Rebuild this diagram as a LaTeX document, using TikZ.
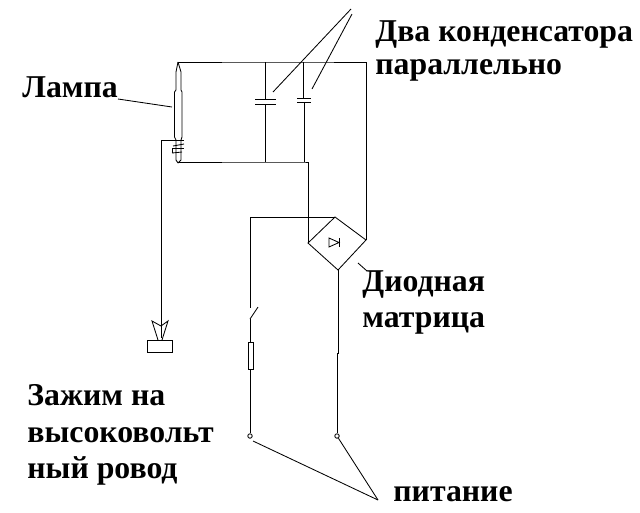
\documentclass[tikz,border=0pt]{standalone}
\usepackage{fontspec}
\setmainfont{Liberation Serif}
\usepackage{tikz}

\begin{document}
\begin{tikzpicture}[x=0.25mm, y=-0.25mm, line width=0.6pt,
  label/.style={anchor=base west, inner sep=0pt, font=\bfseries\fontsize{22.6}{22.6}\selectfont}]
\useasboundingbox (0,0) rectangle (640,512);

% --- Labels ---
\node[label] (lblLamp) at (22,97) {Лампа};
\node[label] (lblCapA) at (375,41) {Два конденсатора};
\node[label] (lblCapB) at (375,74) {параллельно};
\node[label] (lblBridgeA) at (362,291) {Диодная};
\node[label] (lblBridgeB) at (362,327) {матрица};
\node[label] (lblClipA) at (27,405) {Зажим на};
\node[label] (lblClipB) at (27,442) {высоковольт};
\node[label] (lblClipC) at (27,478) {ный ровод};
\node[label] (lblPower) at (393,501) {питание};

% --- Lamp ---
\coordinate (lampTop) at (178,62);
\coordinate (lampBot) at (178,163);
\draw (lampTop) -- (176,72) -- (176,90) -- (174.5,92) -- (174.5,137) -- (176,140) -- (176,160) -- (lampBot);
\draw (lampTop) -- (181,72) -- (181,90) -- (182,92) -- (182,137) -- (181,140) -- (181,160) -- (lampBot);

% --- Coil on the lamp ---
\coordinate (coilIn) at (161,140);
\coordinate (coilEnd) at (184,140);
\draw (coilIn) -- (coilEnd);
\draw (173,146) -- (184,144);
\draw (172,148) -- (184,148);
\draw (172,153) -- (182,152);
\draw (172,148) -- (172,153);

% --- Top and bottom rails ---
\coordinate (capTopA) at (265,62);
\coordinate (capTopB) at (303,62);
\coordinate (railCorner) at (366,62);
\coordinate (capBotA) at (265,162);
\coordinate (capBotB) at (304,162);
\coordinate (railTurn) at (308,162);
\draw (lampTop) -- (capTopA) -- (capTopB) -- (railCorner);
\draw (lampBot |- capBotA) -- (capBotA) -- (capBotB) -- (railTurn);

% --- Capacitors ---
\coordinate (capA1) at (265,99);
\coordinate (capA2) at (265,104);
\coordinate (capB1) at (303,98);
\coordinate (capB2) at (304,102);
\draw (capTopA) -- (capA1);
\draw (capA2) -- (capBotA);
\draw (255,99) -- (276,99);
\draw (255,104) -- (276,104);
\draw (capTopB) -- (capB1);
\draw (capB2) -- (capBotB);
\draw (297,98) -- (311,98);
\draw (297,102) -- (311,102);

% --- Diode bridge ---
\coordinate (brTop) at (335,217);
\coordinate (brRight) at (366,240);
\coordinate (brBot) at (338,270);
\coordinate (brLeft) at (308,243);
\draw (brTop) -- (brRight) -- (brBot) -- (brLeft) -- cycle;
\draw (railCorner) -- (brRight);
\draw (railTurn) -- (brLeft);
\draw (329,238) -- (329,247) -- (339,242.5) -- cycle;
\draw (339,238) -- (339,247);

% --- Switch and resistor branch ---
\coordinate (brCorner) at (250,217);
\coordinate (swUp) at (250,308);
\coordinate (swLow) at (250,319);
\coordinate (swBlade) at (258,307);
\coordinate (resTop) at (250,342);
\coordinate (resBot) at (250,369);
\draw (brTop) -- (brCorner) -- (swUp);
\draw (swLow) -- (swBlade);
\draw (swLow) -- (resTop);
\draw (248,342) rectangle (253,369);

% --- Terminals ---
\node[circle, draw, inner sep=0pt, minimum size=4.5*0.25mm] (termL) at (250,436) {};
\node[circle, draw, inner sep=0pt, minimum size=4.5*0.25mm] (termR) at (337,436) {};
\draw (resBot) -- (termL);
\draw (brBot) -- (338,353) -- (337,353) -- (termR);

% --- High voltage clip ---
\coordinate (clipTop) at (161,338);
\coordinate (clipL) at (152,321);
\coordinate (clipR) at (168,321);
\coordinate (clipMid) at (161,326);
\draw (coilIn) -- (clipTop);
\draw (158,340) -- (clipL) -- (clipMid) -- (clipR) -- (162,340);
\node[draw, inner sep=0pt, minimum width=25*0.25mm, minimum height=12*0.25mm] (clipBox) at (159.5,346) {};

% --- Leaders ---
\coordinate (ldCapA) at (351,9);
\coordinate (ldCapB) at (352,14);
\coordinate (ldCapAend) at (273,92);
\coordinate (ldCapBend) at (312,89);
\coordinate (ldLamp) at (118,99);
\coordinate (ldLampEnd) at (172,107);
\coordinate (ldBridge) at (358,263);
\coordinate (ldBridgeEnd) at (367,271);
\coordinate (ldPowerL) at (253,441);
\coordinate (ldPower) at (378,500);
\draw (ldCapA) -- (ldCapAend);
\draw (ldCapB) -- (ldCapBend);
\draw (ldLamp) -- (ldLampEnd);
\draw (ldBridge) -- (ldBridgeEnd);
\draw (ldPowerL) -- (ldPower);
\draw (termR) -- (ldPower);

\end{tikzpicture}
\end{document}
